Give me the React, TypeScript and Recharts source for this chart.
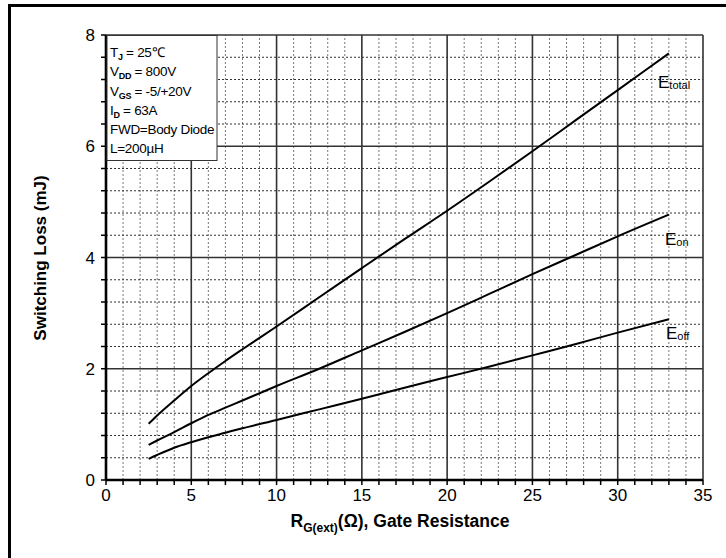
import React from "react";
import { LineChart, Line, XAxis, YAxis, ReferenceLine } from "recharts";

const rg = [2.5, 3, 4, 5, 6, 7, 8, 10, 12.5, 15, 17.5, 20, 22.5, 25, 27.5, 30, 33];
const eTotal = [1.01, 1.16, 1.43, 1.69, 1.92, 2.14, 2.35, 2.76, 3.285, 3.81, 4.33, 4.84, 5.37, 5.91, 6.46, 7.01, 7.67];
const eOn = [0.63, 0.71, 0.86, 1.02, 1.17, 1.3, 1.43, 1.69, 2.0, 2.33, 2.66, 3.0, 3.35, 3.7, 4.04, 4.38, 4.77];
const eOff = [0.38, 0.45, 0.58, 0.68, 0.77, 0.85, 0.93, 1.08, 1.27, 1.46, 1.66, 1.85, 2.04, 2.24, 2.44, 2.65, 2.89];

const xTicks = [0, 1, 2, 3, 4, 5, 6, 7, 8, 9, 10, 11, 12, 13, 14, 15, 16, 17, 18, 19, 20, 21, 22, 23, 24, 25, 26, 27, 28, 29, 30, 31, 32, 33, 34, 35];
const xMajor = [5, 10, 15, 20, 25, 30, 35];
const xLabels = [0, 5, 10, 15, 20, 25, 30, 35];
const yTicks = [0, 0.4, 0.8, 1.2, 1.6, 2, 2.4, 2.8, 3.2, 3.6, 4, 4.4, 4.8, 5.2, 5.6, 6, 6.4, 6.8, 7.2, 7.6, 8];
const yMajor = [2, 4, 6, 8];
const yLabels = [0, 2, 4, 6, 8];

const data = rg.map((r, i) => ({ rg: r, total: eTotal[i], on: eOn[i], off: eOff[i] }));

const FONT = "'Liberation Sans', Arial, sans-serif";

export default function App() {
  const xMinor = xTicks.filter((t) => t !== 0 && !xMajor.includes(t));
  const yMinor = yTicks.filter((t) => t !== 0 && !yMajor.includes(t));
  return (
    <div style={{ position: "absolute", left: 0, top: 0, width: 726, height: 558, background: "#fff", fontFamily: FONT }}>
      <LineChart width={726} height={558} data={data} margin={{ top: 35, right: 23, bottom: 48, left: 46 }}>
        <XAxis
          dataKey="rg"
          type="number"
          domain={[0, 35]}
          ticks={xTicks}
          interval={0}
          tickFormatter={(v: number) => (xLabels.includes(v) ? String(v) : "")}
          tick={{ fill: "#000", fontSize: 17, fontFamily: FONT }}
          tickLine={{ stroke: "#000", strokeWidth: 1.5 }}
          tickSize={5}
          tickMargin={4}
          axisLine={false}
          height={30}
        />
        <YAxis
          type="number"
          domain={[0, 8]}
          ticks={yTicks}
          interval={0}
          tickFormatter={(v: number) => (yLabels.includes(v) ? String(v) : "")}
          tick={{ fill: "#000", fontSize: 17, fontFamily: FONT }}
          tickLine={{ stroke: "#000", strokeWidth: 1.5 }}
          tickSize={5}
          tickMargin={6}
          axisLine={false}
          width={60}
        />
        {xMinor.map((t) => (
          <ReferenceLine key={"xm" + t} x={t} stroke="#777" strokeWidth={1} strokeDasharray="2 2" />
        ))}
        {yMinor.map((t) => (
          <ReferenceLine key={"ym" + t} y={t} stroke="#333" strokeWidth={1} strokeDasharray="2 2" />
        ))}
        {xMajor.map((t) => (
          <ReferenceLine key={"xM" + t} x={t} stroke="#333" strokeWidth={1.6} />
        ))}
        {yMajor.map((t) => (
          <ReferenceLine key={"yM" + t} y={t} stroke="#333" strokeWidth={1.6} />
        ))}
        <ReferenceLine x={0} stroke="#000" strokeWidth={2.6} />
        <ReferenceLine y={0} stroke="#000" strokeWidth={2.6} />
        <Line type="monotone" dataKey="total" stroke="#000" strokeWidth={2} dot={false} isAnimationActive={false} />
        <Line type="monotone" dataKey="on" stroke="#000" strokeWidth={2} dot={false} isAnimationActive={false} />
        <Line type="monotone" dataKey="off" stroke="#000" strokeWidth={2} dot={false} isAnimationActive={false} />
      </LineChart>
      <svg
        width={726}
        height={558}
        style={{ position: "absolute", left: 0, top: 0, pointerEvents: "none" }}
        fontFamily={FONT}
      >
        <line x1={9.5} y1={4} x2={9.5} y2={558} stroke="#000" strokeWidth={3} />
        <line x1={8} y1={5.5} x2={726} y2={5.5} stroke="#000" strokeWidth={3} />
        <rect x={107} y={35.5} width={110} height={125} fill="#fff" stroke="#333" strokeWidth={1} />
        <g fontSize={13.5} fill="#000" letterSpacing={-0.3}>
          <text x={110} y={56.5}>
            T<tspan fontSize={9} fontWeight="bold" dy={3}>J</tspan>
            <tspan dy={-3}> = 25℃</tspan>
          </text>
          <text x={110} y={76}>
            V<tspan fontSize={9} fontWeight="bold" dy={3}>DD</tspan>
            <tspan dy={-3}> = 800V</tspan>
          </text>
          <text x={110} y={95.5}>
            V<tspan fontSize={9} fontWeight="bold" dy={3}>GS</tspan>
            <tspan dy={-3}> = -5/+20V</tspan>
          </text>
          <text x={110} y={114.5}>
            I<tspan fontSize={9} fontWeight="bold" dy={3}>D</tspan>
            <tspan dy={-3}> = 63A</tspan>
          </text>
          <text x={110} y={134}>FWD=Body Diode</text>
          <text x={110} y={153}>L=200µH</text>
        </g>
        <g fill="#000">
          <text x={658} y={88} fontSize={17}>
            E<tspan fontSize={11} dy={1}>total</tspan>
          </text>
          <text x={665} y={245} fontSize={17}>
            E<tspan fontSize={11} dy={1}>on</tspan>
          </text>
          <text x={666} y={339} fontSize={17}>
            E<tspan fontSize={11} dy={1}>off</tspan>
          </text>
        </g>
        <text
          x={0}
          y={0}
          transform="translate(46,258) rotate(-90)"
          textAnchor="middle"
          fontSize={17}
          fontWeight="bold"
          fill="#000"
        >
          Switching Loss (mJ)
        </text>
        <text x={400} y={527} textAnchor="middle" fontSize={17.5} fontWeight="bold" fill="#000">
          R<tspan fontSize={12} dy={5}>G(ext)</tspan>
          <tspan dy={-5}>(Ω), Gate Resistance</tspan>
        </text>
      </svg>
    </div>
  );
}
